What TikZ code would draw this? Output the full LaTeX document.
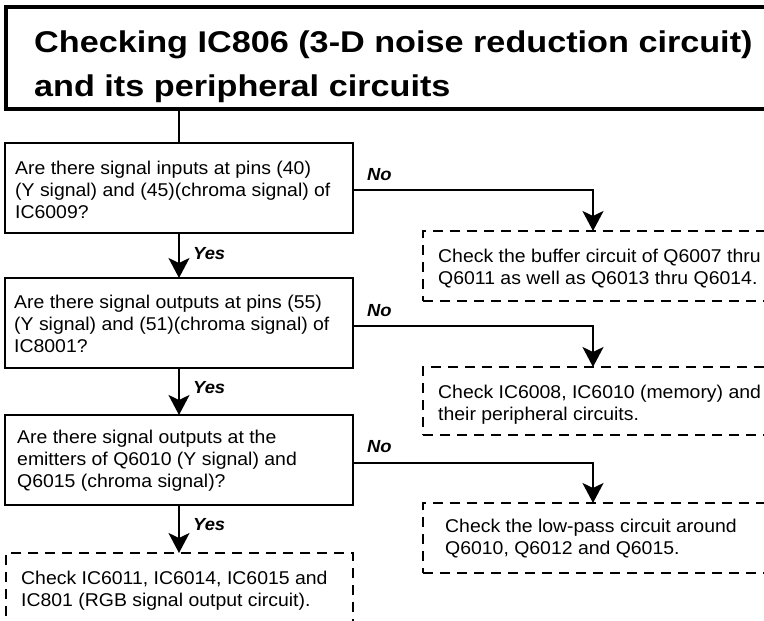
\documentclass[tikz,border=0pt]{standalone}
\usepackage{fontspec}
\setmainfont{Liberation Sans}
\newfontfamily\bodyfont{Liberation Sans}[FakeStretch=1.05]
\newfontfamily\titlefont{Liberation Sans}[FakeStretch=1.14]
\usetikzlibrary{arrows.meta}
\tikzset{
  qbox/.style={draw, line width=2pt, anchor=north west, minimum width=348pt, minimum height=90pt, inner sep=0pt, outer sep=0pt},
  dbox/.style={draw, line width=2.2pt, dash pattern=on 10pt off 7pt, anchor=north west, inner sep=0pt, outer sep=0pt},
  bodytext/.style={font=\bodyfont\fontsize{18.5}{22}\selectfont, align=left, inner sep=0pt, anchor=west},
  lab/.style={font=\bodyfont\fontsize{17.5}{18}\selectfont\bfseries\itshape, inner sep=0pt, anchor=west},
  conn/.style={line width=2pt},
  arr/.style={line width=2pt, -{Stealth[length=20pt, width=21pt, inset=5pt]}},
}
\begin{document}
\begin{tikzpicture}[x=1pt,y=-1pt]
\path[use as bounding box] (0,0) rectangle (764,621);
\clip (0,0) rectangle (764,621);
% title
\node[draw, line width=4pt, anchor=north west, minimum width=900pt, minimum height=102pt, inner sep=0pt, outer sep=0pt] (title) at (6,7) {};
\node[font=\titlefont\fontsize{30}{44}\selectfont\bfseries, align=left, inner sep=0pt, anchor=north west] (titletext) at (34,31)
  {Checking IC806 (3-D noise reduction circuit)\\and its peripheral circuits};
% question boxes
\node[qbox] (q1) at (5,143) {};
\node[qbox] (q2) at (5,278) {};
\node[qbox] (q3) at (5,415) {};
\node[bodytext] (q1t) at ([xshift=10pt,yshift=-2pt]q1.west) {Are there signal inputs at pins (40)\\(Y signal) and (45)(chroma signal) of\\IC6009?};
\node[bodytext] (q2t) at ([xshift=9pt,yshift=-1pt]q2.west) {Are there signal outputs at pins (55)\\(Y signal) and (51)(chroma signal) of\\IC8001?};
\node[bodytext] (q3t) at ([xshift=12pt,yshift=-1pt]q3.west) {Are there signal outputs at the\\emitters of Q6010 (Y signal) and\\Q6015 (chroma signal)?};
% dashed boxes
\node[dbox, minimum width=400pt, minimum height=70pt] (c1) at (423,231) {};
\node[dbox, minimum width=400pt, minimum height=68pt] (c2) at (423,367) {};
\node[dbox, minimum width=400pt, minimum height=70pt] (c3) at (423,503) {};
\node[dbox, minimum width=347pt, minimum height=120pt] (c4) at (6,553) {};
\node[bodytext] (c1t) at ([xshift=15pt,yshift=-3pt]c1.west) {Check the buffer circuit of Q6007 thru\\Q6011 as well as Q6013 thru Q6014.};
\node[bodytext] (c2t) at ([xshift=15pt,yshift=-4pt]c2.west) {Check IC6008, IC6010 (memory) and\\their peripheral circuits.};
\node[bodytext] (c3t) at ([xshift=22pt,yshift=-1pt]c3.west) {Check the low-pass circuit around\\Q6010, Q6012 and Q6015.};
\node[bodytext, anchor=north west] (c4t) at ([xshift=15pt,yshift=-18pt]c4.north west) {Check IC6011, IC6014, IC6015 and\\IC801 (RGB signal output circuit).};
% connectors
\draw[conn] (title.south -| q1.north) -- (q1.north);
\draw[arr] (q1.south) -- (q2.north);
\draw[arr] (q2.south) -- (q3.north);
\draw[arr] (q3.south) -- (c4.north -| q3.south);
\draw[arr] ([yshift=-2pt]q1.east) -| ([xshift=170pt]c1.north west);
\draw[arr] ([yshift=-3pt]q2.east) -| ([xshift=170pt]c2.north west);
\draw[arr] ([yshift=-3pt]q3.east) -| ([xshift=170pt]c3.north west);
% labels
\node[lab] (yes1) at ([xshift=14pt,yshift=-21pt]q1.south) {Yes};
\node[lab] (yes2) at ([xshift=14pt,yshift=-20pt]q2.south) {Yes};
\node[lab] (yes3) at ([xshift=14pt,yshift=-20pt]q3.south) {Yes};
\node[lab] (no1) at ([xshift=14pt,yshift=13pt]q1.east) {No};
\node[lab] (no2) at ([xshift=14pt,yshift=12pt]q2.east) {No};
\node[lab] (no3) at ([xshift=14pt,yshift=13pt]q3.east) {No};
\end{tikzpicture}
\end{document}
